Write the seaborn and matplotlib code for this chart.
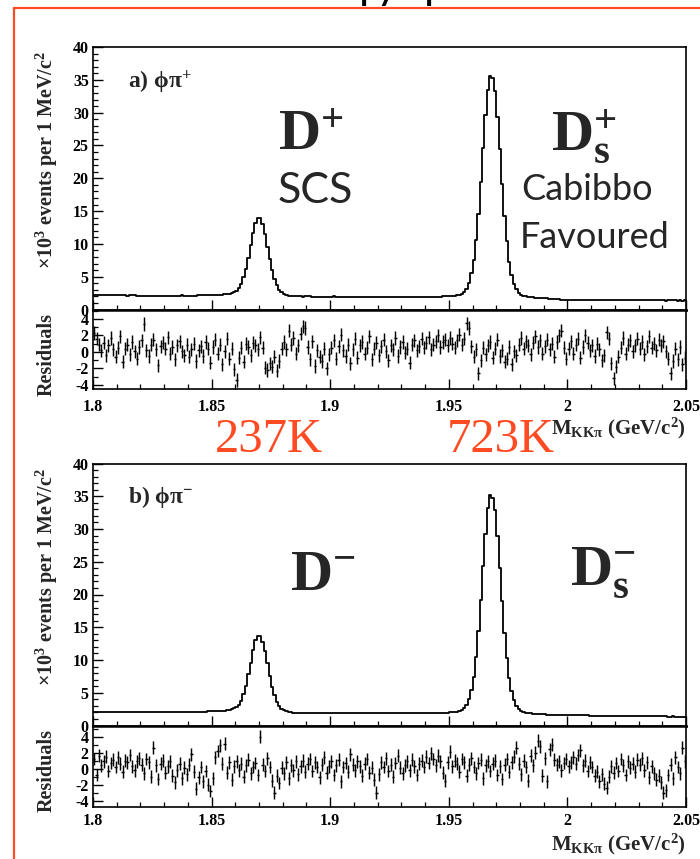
import numpy as np
import pandas as pd
import matplotlib
matplotlib.use("Agg")
import matplotlib.pyplot as plt
import seaborn as sns
from matplotlib.ticker import MultipleLocator, FixedLocator, FixedFormatter
from matplotlib.lines import Line2D

# ---------------- data ----------------
mass_lo = 1.80
mass_hi = 2.05
n_bins = 250

# panel a) phi pi+ : x10^3 events per 1 MeV/c^2
hist_a = [
    2.2, 2.2, 2.2, 2.2, 2.15, 2.2, 2.2, 2.2, 2.15, 2.15,
    2.15, 2.15, 2.15, 2.15, 2.1, 2.15, 2.15, 2.15, 2.1, 2.1,
    2.1, 2.1, 2.1, 2.1, 2.1, 2.05, 2.1, 2.1, 2.1, 2.1,
    2.1, 2.05, 2.1, 2.1, 2.1, 2.1, 2.1, 2.15, 2.1, 2.1,
    2.1, 2.1, 2.1, 2.1, 2.15, 2.15, 2.15, 2.15, 2.15, 2.15,
    2.2, 2.2, 2.25, 2.25, 2.25, 2.3, 2.3, 2.35, 2.45, 2.6,
    2.8, 3.3, 3.9, 4.9, 6.2, 7.9, 9.8, 11.7, 13.2, 14.0,
    13.9, 13.0, 11.5, 9.6, 7.7, 6.0, 4.7, 3.7, 3.0, 2.6,
    2.35, 2.2, 2.1, 2.05, 2.0, 2.0, 2.0, 2.0, 1.95, 2.0,
    2.0, 2.0, 1.95, 1.95, 1.95, 1.95, 1.95, 1.95, 1.95, 1.95,
    1.95, 2.0, 1.95, 1.95, 1.95, 1.95, 1.9, 1.95, 1.95, 1.95,
    1.95, 1.95, 1.95, 1.95, 1.95, 1.9, 1.95, 1.95, 1.95, 1.95,
    1.95, 1.95, 1.95, 1.95, 1.95, 1.95, 1.95, 1.95, 1.95, 1.95,
    1.95, 1.95, 1.95, 1.95, 1.95, 1.95, 1.95, 1.95, 1.95, 1.95,
    1.95, 1.95, 1.95, 1.95, 1.95, 1.95, 1.95, 2.0, 2.0, 2.0,
    2.0, 2.05, 2.1, 2.15, 2.25, 2.4, 2.7, 3.2, 4.1, 5.5,
    7.5, 10.6, 14.6, 19.4, 24.6, 29.6, 33.5, 35.6, 35.2, 33.3,
    29.4, 24.4, 19.2, 14.3, 10.4, 7.3, 5.3, 3.9, 3.05, 2.55,
    2.25, 2.1, 2.0, 1.95, 1.9, 1.85, 1.8, 1.8, 1.75, 1.75,
    1.7, 1.7, 1.65, 1.6, 1.6, 1.55, 1.55, 1.5, 1.5, 1.5,
    1.5, 1.5, 1.45, 1.45, 1.45, 1.45, 1.45, 1.45, 1.45, 1.45,
    1.45, 1.45, 1.45, 1.45, 1.45, 1.45, 1.45, 1.4, 1.45, 1.45,
    1.45, 1.45, 1.4, 1.4, 1.4, 1.4, 1.4, 1.4, 1.4, 1.4,
    1.4, 1.4, 1.4, 1.4, 1.4, 1.4, 1.4, 1.4, 1.4, 1.4,
    1.4, 1.35, 1.4, 1.4, 1.4, 1.4, 1.35, 1.4, 1.35, 1.4,
]

res_a = [
    2.3, 1.6, 0.9, 0.2, 1.1, -0.4, 0.8, 1.7, 0.3, -0.6,
    0.5, 1.9, -1.2, 0.4, 0.9, -0.3, 1.2, 0.1, -0.8, 0.6,
    1.4, 3.4, 0.2, -0.5, 0.9, 1.5, 0.3, -1.6, 0.7, 1.1,
    0.4, 1.8, -0.2, 0.6, -0.9, 0.8, 1.3, 0.1, -0.4, 0.9,
    -0.6, 0.3, 1.0, -1.1, 0.2, 0.7, -0.5, 1.2, 0.4, -1.3,
    0.6, 1.5, -0.2, 0.9, -1.5, 0.1, 1.6, -0.8, 0.4, -2.1,
    -3.4, -0.7, 0.5, -1.2, 1.0, 0.6, -0.4, 1.1, 0.8, 0.3,
    1.8, 0.5, -1.9, -2.2, -1.4, -1.8, -0.6, -2.3, -1.1, 0.4,
    1.2, 0.3, 2.6, 0.9, 1.7, -0.2, 0.8, 2.2, 3.1, 2.9,
    0.6, -0.9, 1.3, -1.7, 0.2, -0.6, -1.1, 0.4, -2.0, -0.3,
    0.5, 1.4, -0.8, 0.7, 2.1, 0.2, -0.5, 0.9, -1.4, 0.3,
    1.6, -0.7, 0.8, 1.2, -0.2, 0.5, 1.9, -0.9, 0.4, 1.1,
    -0.4, 0.7, 1.5, 0.1, -1.0, 0.8, 0.3, 1.7, -0.5, 0.6,
    1.2, -0.1, 0.4, -1.3, 0.9, 1.4, 0.2, 0.7, 1.6, 0.5,
    1.1, 1.8, 0.3, 0.9, 1.3, 2.0, 0.6, 1.2, 1.5, 0.8,
    1.7, 1.0, 0.5, 1.4, 2.1, 0.9, 1.6, 3.5, 2.9, 0.7,
    -0.6, 0.3, -2.6, -1.0, 0.5, -0.3, 0.8, 1.2, -0.7, 0.4,
    1.5, -0.5, 0.2, -1.2, -0.8, 0.6, -1.5, 0.1, -0.4, 0.9,
    1.7, 0.4, 1.3, 0.8, -0.3, 1.1, 1.9, 0.6, 1.4, -0.2,
    0.7, 1.5, 0.3, 1.0, -0.6, 1.2, 2.0, 2.6, 0.5, -0.8,
    0.4, 1.3, -0.2, 0.9, 1.6, -0.7, 0.6, 2.0, 1.1, 0.2,
    0.8, -0.5, 1.0, 0.3, -1.0, -0.4, 2.4, 1.6, -1.4, -3.2,
    -1.8, -0.6, 0.5, 1.7, -0.2, 0.9, 1.4, 0.1, 0.8, 1.6,
    0.4, 1.2, -0.3, 0.7, 1.9, 0.5, 1.0, 0.2, 1.5, 0.8,
    1.3, 0.1, -0.8, -2.6, -1.1, 0.4, -0.9, 0.6, -1.5, -0.7,
]

# panel b) phi pi-
hist_b = [
    2.1, 2.1, 2.1, 2.1, 2.1, 2.1, 2.1, 2.1, 2.1, 2.1,
    2.1, 2.1, 2.1, 2.1, 2.1, 2.1, 2.1, 2.1, 2.1, 2.1,
    2.1, 2.1, 2.1, 2.05, 2.1, 2.05, 2.05, 2.05, 2.05, 2.05,
    2.05, 2.05, 2.05, 2.05, 2.05, 2.05, 2.05, 2.1, 2.05, 2.05,
    2.1, 2.1, 2.1, 2.05, 2.1, 2.1, 2.1, 2.1, 2.15, 2.15,
    2.15, 2.15, 2.2, 2.2, 2.2, 2.25, 2.3, 2.35, 2.45, 2.6,
    2.8, 3.2, 3.8, 4.8, 6.1, 7.8, 9.6, 11.5, 13.0, 13.7,
    13.6, 12.8, 11.3, 9.5, 7.6, 5.9, 4.6, 3.6, 2.95, 2.55,
    2.3, 2.15, 2.05, 2.0, 1.95, 1.95, 1.95, 1.95, 1.9, 1.9,
    1.9, 1.9, 1.9, 1.9, 1.9, 1.9, 1.9, 1.95, 1.9, 1.9,
    1.9, 1.9, 1.9, 1.9, 1.9, 1.9, 1.9, 1.9, 1.9, 1.9,
    1.9, 1.9, 1.9, 1.85, 1.9, 1.9, 1.9, 1.9, 1.9, 1.9,
    1.9, 1.9, 1.9, 1.9, 1.9, 1.9, 1.9, 1.9, 1.9, 1.9,
    1.9, 1.9, 1.9, 1.9, 1.9, 1.9, 1.9, 1.9, 1.9, 1.9,
    1.9, 1.9, 1.9, 1.9, 1.9, 1.9, 1.9, 1.95, 1.95, 1.95,
    2.0, 2.0, 2.05, 2.1, 2.2, 2.35, 2.65, 3.1, 4.0, 5.4,
    7.4, 10.4, 14.4, 19.2, 24.3, 29.3, 33.2, 35.2, 34.8, 32.9,
    29.0, 24.1, 19.0, 14.1, 10.3, 7.2, 5.2, 3.85, 3.0, 2.5,
    2.2, 2.05, 1.95, 1.9, 1.85, 1.8, 1.75, 1.75, 1.7, 1.7,
    1.7, 1.65, 1.65, 1.6, 1.6, 1.6, 1.6, 1.6, 1.6, 1.6,
    1.6, 1.6, 1.6, 1.6, 1.55, 1.55, 1.55, 1.55, 1.55, 1.5,
    1.5, 1.5, 1.5, 1.5, 1.5, 1.5, 1.5, 1.5, 1.5, 1.5,
    1.5, 1.5, 1.45, 1.45, 1.45, 1.45, 1.45, 1.45, 1.45, 1.45,
    1.4, 1.4, 1.4, 1.4, 1.4, 1.4, 1.4, 1.4, 1.4, 1.4,
    1.4, 1.4, 1.35, 1.35, 1.4, 1.35, 1.35, 1.35, 1.35, 1.35,
]

res_b = [
    1.2, -0.8, 1.6, 0.4, 0.9, 1.5, -0.3, 0.7, 1.1, 0.2,
    1.4, 0.6, -0.4, 1.0, 0.8, 1.7, 0.3, -0.2, 0.9, 1.3,
    0.5, -0.6, 1.2, 0.8, -1.0, 2.6, 0.4, -1.3, 0.6, 1.0,
    -0.5, 0.3, 0.9, -0.9, -1.7, -0.2, 0.6, -1.2, 0.1, -0.7,
    0.5, 1.8, -0.4, -2.5, -1.1, 0.2, -1.6, -0.3, -2.0, -2.8,
    -1.2, 1.4, 2.2, 2.9, 0.6, 3.1, -0.5, 0.8, -1.4, 0.3,
    0.9, -0.2, 0.6, -1.0, 0.4, 1.1, -0.6, 0.2, 0.7, -0.8,
    4.0, 0.5, -0.3, 1.3, 0.2, -1.5, -3.0, -0.9, -1.8, 0.1,
    -0.6, 0.8, -1.2, 0.4, -0.2, 0.9, -0.7, 0.3, 1.0, -0.4,
    0.6, 1.2, -0.3, 0.8, 0.2, -1.1, 0.5, 1.4, -0.5, 0.3,
    0.9, -0.8, 0.4, 1.1, -1.6, 0.2, 0.7, -0.4, 1.8, 0.5,
    -0.2, 0.9, 0.3, -0.9, 0.6, 1.2, -0.5, 0.1, -1.4, -3.0,
    -0.7, 0.8, 0.2, 1.3, -0.3, 0.5, -1.0, 0.7, 1.6, 0.1,
    -0.6, 0.4, 0.9, -0.2, 1.1, 0.3, -0.8, 0.6, 1.0, 0.2,
    1.5, 0.7, 1.9, 1.2, 0.4, 1.6, 0.9, -0.5, -1.5, 0.8,
    2.1, 0.3, 1.0, 0.6, -0.4, 1.2, 0.8, -0.9, 0.5, 1.3,
    0.2, -0.6, 0.7, 1.1, -1.2, 0.4, 0.9, -0.3, 0.6, 1.0,
    -0.8, 0.3, -1.3, 0.5, 1.2, -0.4, 0.8, 1.5, 2.6, 0.6,
    -0.7, 1.0, 0.2, -1.5, 1.6, 0.4, 2.0, 3.5, 2.8, -0.9,
    1.3, -1.6, 2.4, 3.0, 1.1, 0.5, 0.9, -0.2, 0.7, 1.2,
    0.3, 0.8, 1.4, 0.6, 1.7, 2.3, 0.4, 1.0, -0.3, 0.8,
    0.2, -0.9, -0.4, -1.6, -0.7, -1.9, -2.4, -1.0, 0.3, -0.5,
    0.7, -0.3, 1.2, 0.4, -0.8, 0.9, 0.1, 0.6, -0.4, 1.1,
    0.5, 1.3, -0.2, 0.8, -1.1, 0.3, -0.6, -1.4, -0.9, -1.7,
    -3.0, -2.7, -0.8, 0.5, -1.2, 1.4, 0.2, -0.6, 2.6, 0.9,
]
res_err = 0.8

x_ticks = [1.8, 1.85, 1.9, 1.95, 2.0, 2.05]
x_tick_labels = ["1.8", "1.85", "1.9", "1.95", "2", "2.05"]
y_ticks_main = [0, 5, 10, 15, 20, 25, 30, 35, 40]
y_ticks_res = [-4, -2, 0, 2, 4]

# ---------------- style ----------------
sns.set_style("ticks")
SERIF = ["Liberation Serif", "DejaVu Serif"]
SANS = ["Lato", "DejaVu Sans"]
plt.rcParams['font.family'] = SERIF
plt.rcParams['font.weight'] = 'bold'
plt.rcParams['mathtext.fontset'] = 'custom'
plt.rcParams['mathtext.rm'] = 'Liberation Serif:bold'
plt.rcParams['mathtext.bf'] = 'Liberation Serif:bold'
plt.rcParams['mathtext.it'] = 'Liberation Serif:bold:italic'
plt.rcParams['mathtext.default'] = 'bf'
plt.rcParams['mathtext.fallback'] = 'stix'

RED = "#FF4B23"
W, H = 700, 859
fig = plt.figure(figsize=(7.0, 8.59), dpi=100)
fig.patch.set_facecolor("white")


def fx(x):
    return x / W


def fy(y):
    return 1 - y / H


def box(top, bottom):
    return [fx(93), fy(bottom), fx(686) - fx(93), fy(top) - fy(bottom)]


bin_w = (mass_hi - mass_lo) / n_bins
centers = mass_lo + bin_w * (np.arange(n_bins) + 0.5)
TICK_FS = 11.5


def style_axes(ax, lw=1.2):
    for s in ax.spines.values():
        s.set_linewidth(lw)
        s.set_color("black")
    ax.set_xlim(mass_lo, mass_hi)
    ax.xaxis.set_major_locator(FixedLocator(x_ticks))
    ax.xaxis.set_minor_locator(MultipleLocator(0.01))
    ax.tick_params(axis="both", which="both", direction="in", top=False, right=False,
                   colors="black")
    ax.tick_params(axis="both", which="major", length=7.5, width=1.0)
    ax.tick_params(axis="both", which="minor", length=3.5, width=0.9)
    ax.set_xlabel("")
    ax.set_ylabel("")


def draw_panel(hist, res, main_top, main_bot, res_bot, ylim_res, xpad):
    ax = fig.add_axes(box(main_top, main_bot))
    axr = fig.add_axes(box(main_bot, res_bot))
    df = pd.DataFrame({"mass": centers, "count": hist})
    sns.histplot(data=df, x="mass", weights="count", binwidth=bin_w,
                 binrange=(mass_lo, mass_hi), element="step", fill=False,
                 color="black", linewidth=1.3, ax=ax)
    style_axes(ax)
    ax.spines["bottom"].set_linewidth(1.8)
    ax.set_ylim(0, 40)
    ax.yaxis.set_major_locator(FixedLocator(y_ticks_main))
    ax.yaxis.set_minor_locator(MultipleLocator(1))
    ax.set_yticklabels([str(v) for v in y_ticks_main], fontsize=TICK_FS,
                       fontweight="bold", family=SERIF)
    ax.tick_params(axis="y", pad=3)
    ax.tick_params(axis="x", labelbottom=False)

    axr.errorbar(centers, res, yerr=res_err, xerr=bin_w / 2, fmt="none",
                 ecolor="black", elinewidth=1.05, capsize=0)
    style_axes(axr)
    axr.spines["top"].set_linewidth(1.8)
    axr.set_ylim(*ylim_res)
    axr.yaxis.set_major_locator(FixedLocator(y_ticks_res))
    axr.yaxis.set_minor_locator(MultipleLocator(1))
    axr.set_yticklabels([str(v) for v in y_ticks_res], fontsize=TICK_FS,
                        fontweight="bold", family=SERIF)
    axr.xaxis.set_major_formatter(FixedFormatter(x_tick_labels))
    for t in axr.get_xticklabels():
        t.set_fontsize(TICK_FS)
        t.set_fontweight("bold")
        t.set_family(SERIF)
    axr.tick_params(axis="x", pad=xpad)
    axr.tick_params(axis="y", pad=3)
    return ax, axr


draw_panel(hist_a, res_a, 47, 309.5, 389, (-4.5, 5.15), 7.5)
draw_panel(hist_b, res_b, 463.5, 725.5, 807, (-4.8, 5.4), 4)

# ---------------- axis titles ----------------
ylab = r"$\times$10$^{3}$ events per 1 MeV/c$^{2}$"
fig.text(fx(47), fy(160), ylab, rotation=90, ha="center", va="center", fontsize=14.5,
         family=SERIF)
fig.text(fx(47), fy(577), ylab, rotation=90, ha="center", va="center", fontsize=14.5,
         family=SERIF)
fig.text(fx(47), fy(354), "Residuals", rotation=90, ha="center", va="center",
         fontsize=14.5, family=SERIF)
fig.text(fx(47), fy(770), "Residuals", rotation=90, ha="center", va="center",
         fontsize=14.5, family=SERIF)

xlab = r"M$_{\mathbf{KK\pi}}$ (GeV/c$^{2}$)"
fig.text(fx(686), fy(434), xlab, ha="right", va="baseline", fontsize=15, family=SERIF)
fig.text(fx(686), fy(850), xlab, ha="right", va="baseline", fontsize=15, family=SERIF)

# ---------------- panel annotations ----------------
fig.text(fx(128), fy(88), r"a) $\phi\pi^{+}$", ha="left", va="baseline", fontsize=17,
         family=SERIF)
fig.text(fx(128), fy(503), r"b) $\phi\pi^{-}$", ha="left", va="baseline", fontsize=17,
         family=SERIF)

fig.text(fx(278), fy(150), r"D$^{+}$", ha="left", va="baseline", fontsize=42, family=SERIF)
fig.text(fx(551), fy(150), r"D$_{\mathbf{s}}^{+}$", ha="left", va="baseline", fontsize=42,
         family=SERIF)
fig.text(fx(290), fy(590), r"D$^{-}$", ha="left", va="baseline", fontsize=42, family=SERIF)
fig.text(fx(570), fy(585), r"D$_{\mathbf{s}}^{-}$", ha="left", va="baseline", fontsize=42,
         family=SERIF)

fig.text(fx(278), fy(203), "SCS", ha="left", va="baseline", fontsize=31,
         family=SANS, fontweight="normal")
fig.text(fx(521), fy(200), "Cabibbo", ha="left", va="baseline", fontsize=26,
         family=SANS, fontweight="normal")
fig.text(fx(520), fy(248), "Favoured", ha="left", va="baseline", fontsize=26,
         family=SANS, fontweight="normal")

fig.text(fx(215), fy(452), "237K", ha="left", va="baseline", fontsize=35,
         color=RED, fontweight="normal", family=SERIF)
fig.text(fx(447), fy(452), "723K", ha="left", va="baseline", fontsize=35,
         color=RED, fontweight="normal", family=SERIF)

# slide frame and clipped heading fragments
fig.add_artist(Line2D([fx(14), 1.0], [fy(8), fy(8)], transform=fig.transFigure,
                      color=RED, linewidth=1.6))
fig.add_artist(Line2D([fx(14), fx(14)], [fy(8), 0.0], transform=fig.transFigure,
                      color=RED, linewidth=1.6))
for gx, g in [(359, "p"), (376, "y"), (424, "p")]:
    fig.text(fx(gx), fy(-2), g, ha="left", va="baseline", fontsize=32,
             family=SANS, fontweight="normal", color="black")

fig.savefig("out.png", dpi=100, facecolor="white")
